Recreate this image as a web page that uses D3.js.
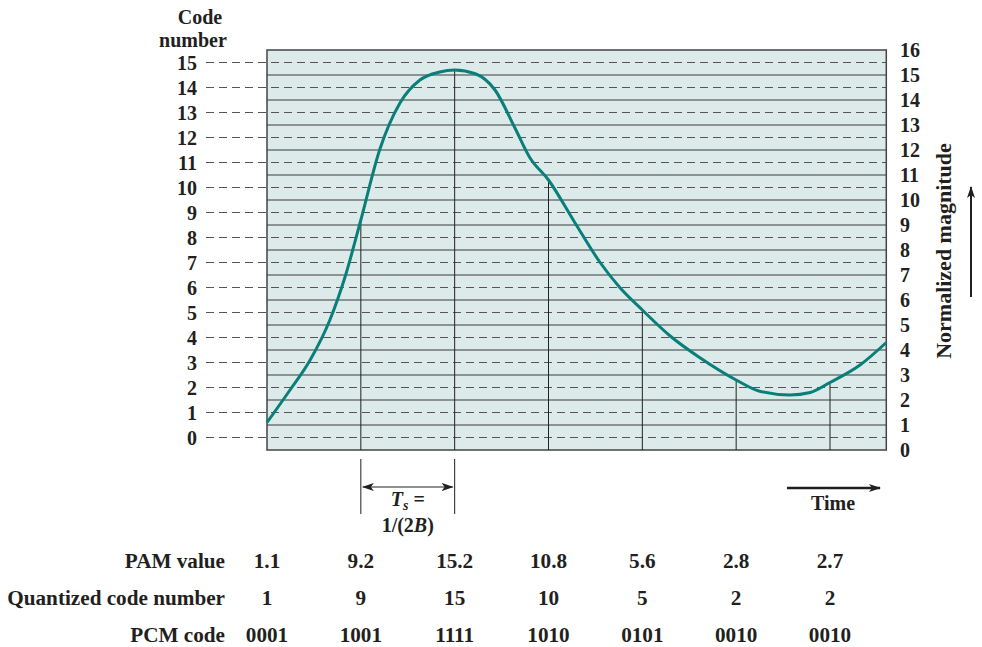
<!DOCTYPE html>
<html><head><meta charset="utf-8">
<script src="https://cdn.jsdelivr.net/npm/d3@7"></script>
<style>body{margin:0;background:#fff;} text{font-family:"Liberation Serif","Times New Roman",serif;font-weight:bold;fill:#231f20;}</style>
</head><body>
<svg id="c" width="982" height="647"></svg>
<script>
// Data
const sampleTimes = [0, 1, 2, 3, 4, 5, 6];
const pamValues = [1.1, 9.2, 15.2, 10.8, 5.6, 2.8, 2.7];
const codeNumbers = [1, 9, 15, 10, 5, 2, 2];
const pcmCodes = ["0001", "1001", "1111", "1010", "0101", "0010", "0010"];
const curveT = [0, 0.245, 0.46, 0.67, 0.83, 1, 1.2, 1.42, 1.63, 1.84, 2, 2.22, 2.43, 2.64, 2.8, 3, 3.28, 3.55, 3.76, 4, 4.3, 4.61, 5, 5.25, 5.57, 5.79, 6, 6.32, 6.6];
const curveV = [1.1, 2.4, 3.6, 5.2, 6.9, 9.2, 12.0, 13.9, 14.8, 15.12, 15.2, 15.05, 14.4, 12.9, 11.7, 10.8, 9.1, 7.5, 6.5, 5.6, 4.55, 3.7, 2.8, 2.35, 2.2, 2.3, 2.7, 3.4, 4.3];
const rightTicks = d3.range(0, 17);
const codeTicks = d3.range(0, 16);
const rowLabels = ["PAM value", "Quantized code number", "PCM code"];

const svg = d3.select("#c");
const x = d3.scaleLinear().domain([0, 6]).range([267, 830]);
const y = d3.scaleLinear().domain([0, 16]).range([450, 50]);
const xL = 267, xR = x(6.6);
const FS = 20;

// background
svg.append("rect").attr("x", xL).attr("y", y(16)).attr("width", xR - xL).attr("height", y(0) - y(16))
  .attr("fill", "#dcebea");

// solid integer lines
svg.append("g").selectAll("line").data(d3.range(1, 16)).join("line")
  .attr("x1", xL).attr("x2", xR).attr("y1", d => y(d)).attr("y2", d => y(d))
  .attr("stroke", "#3a3a3a").attr("stroke-width", 1);

// dashed half-lines (code levels), extending left
svg.append("g").selectAll("line").data(codeTicks).join("line")
  .attr("x1", 206).attr("x2", xR).attr("y1", d => y(d + 0.5)).attr("y2", d => y(d + 0.5))
  .attr("stroke", "#555").attr("stroke-width", 1.1).attr("stroke-dasharray", "8,5");

// border
svg.append("rect").attr("x", xL).attr("y", y(16)).attr("width", xR - xL).attr("height", y(0) - y(16))
  .attr("fill", "none").attr("stroke", "#444").attr("stroke-width", 1.5);

// sample vertical lines
svg.append("g").selectAll("line").data(sampleTimes.slice(1)).join("line")
  .attr("x1", d => x(d)).attr("x2", d => x(d))
  .attr("y1", (d, i) => y(pamValues[i + 1])).attr("y2", y(0))
  .attr("stroke", "#222").attr("stroke-width", 1);

// curve
const pts = curveT.map((t, i) => [t, curveV[i]]);
svg.append("path").datum(pts)
  .attr("d", d3.line().x(d => x(d[0])).y(d => y(d[1])).curve(d3.curveMonotoneX))
  .attr("fill", "none").attr("stroke", "#0a7f7a").attr("stroke-width", 3);

// left labels
svg.append("g").selectAll("text").data(codeTicks).join("text")
  .attr("x", 197).attr("y", d => y(d + 0.5)).attr("dy", "0.35em")
  .attr("text-anchor", "end").attr("font-size", FS).text(d => d);
svg.append("text").attr("x", 200).attr("y", 24).attr("text-anchor", "middle").attr("font-size", FS).text("Code");
svg.append("text").attr("x", 193).attr("y", 47).attr("text-anchor", "middle").attr("font-size", FS).text("number");

// right labels
svg.append("g").selectAll("text").data(rightTicks).join("text")
  .attr("x", 900).attr("y", d => y(d)).attr("dy", "0.35em")
  .attr("text-anchor", "start").attr("font-size", FS).text(d => d);
svg.append("text").attr("transform", "translate(951,251) rotate(-90)")
  .attr("text-anchor", "middle").attr("font-size", 22).text("Normalized magnitude");

// arrow markers
const defs = svg.append("defs");
defs.append("marker").attr("id", "ah").attr("viewBox", "0 0 12 8").attr("refX", 11).attr("refY", 4)
  .attr("markerWidth", 12).attr("markerHeight", 8).attr("markerUnits", "userSpaceOnUse").attr("orient", "auto-start-reverse")
  .append("path").attr("d", "M0,0 L12,4 L0,8 L3,4 Z").attr("fill", "#231f20");

svg.append("line").attr("x1", 971).attr("x2", 971).attr("y1", 297).attr("y2", 187)
  .attr("stroke", "#231f20").attr("stroke-width", 2).attr("marker-end", "url(#ah)");

// Ts annotation
[1, 2].forEach(t => {
  svg.append("line").attr("x1", x(t)).attr("x2", x(t)).attr("y1", 459).attr("y2", 514)
    .attr("stroke", "#231f20").attr("stroke-width", 1);
});
svg.append("line").attr("x1", x(1) + 2).attr("x2", x(2) - 2).attr("y1", 487).attr("y2", 487)
  .attr("stroke", "#231f20").attr("stroke-width", 1).attr("marker-start", "url(#ah)").attr("marker-end", "url(#ah)");
const ts = svg.append("text").attr("x", (x(1) + x(2)) / 2).attr("y", 506).attr("text-anchor", "middle").attr("font-size", FS);
ts.append("tspan").attr("font-style", "italic").text("T");
ts.append("tspan").attr("font-style", "italic").attr("font-size", 14).attr("dy", 4).text("s");
ts.append("tspan").attr("dy", -4).text(" =");
const t2 = svg.append("text").attr("x", (x(1) + x(2)) / 2).attr("y", 532).attr("text-anchor", "middle").attr("font-size", FS);
t2.append("tspan").text("1/(2");
t2.append("tspan").attr("font-style", "italic").text("B");
t2.append("tspan").text(")");

// Time arrow
svg.append("line").attr("x1", 787).attr("x2", 880).attr("y1", 488).attr("y2", 488)
  .attr("stroke", "#231f20").attr("stroke-width", 2.5).attr("marker-end", "url(#ah)");
svg.append("text").attr("x", 833).attr("y", 510).attr("text-anchor", "middle").attr("font-size", FS).text("Time");

// table
const rowY = [561, 598, 635];
const rows = [pamValues.map(v => v.toFixed(1)), codeNumbers.map(String), pcmCodes];
rows.forEach((r, ri) => {
  svg.append("text").attr("x", 225).attr("y", rowY[ri]).attr("dy", "0.35em")
    .attr("text-anchor", "end").attr("font-size", 21.2).text(rowLabels[ri]);
  svg.append("g").selectAll("text").data(r).join("text")
    .attr("x", (d, i) => x(sampleTimes[i])).attr("y", rowY[ri]).attr("dy", "0.35em")
    .attr("text-anchor", "middle").attr("font-size", 21.2).text(d => d);
});
</script>
</body></html>
